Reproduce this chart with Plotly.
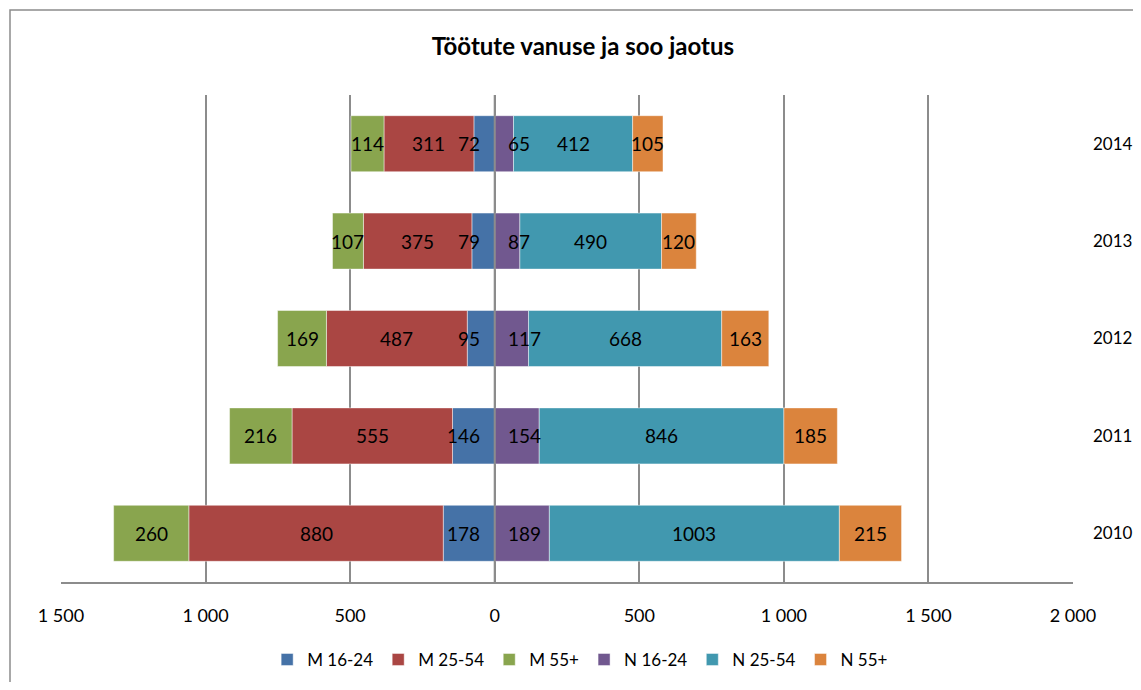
import plotly.graph_objects as go

years = ["2010", "2011", "2012", "2013", "2014"]
series_names = ["M 16-24", "M 25-54", "M 55+", "N 16-24", "N 25-54", "N 55+"]
m_16_24 = [178, 146, 95, 79, 72]
m_25_54 = [880, 555, 487, 375, 311]
m_55 = [260, 216, 169, 107, 114]
n_16_24 = [189, 154, 117, 87, 65]
n_25_54 = [1003, 846, 668, 490, 412]
n_55 = [215, 185, 163, 120, 105]
tick_vals = [-1500, -1000, -500, 0, 500, 1000, 1500, 2000]
tick_text = ["1 500", "1 000", "500", "0", "500", "1 000", "1 500", "2 000"]
title_text = "Töötute vanuse ja soo jaotus"

colors = ["#4572A7", "#AA4643", "#89A54E", "#71588F", "#4198AF", "#DB843D"]
FONT = "Lato"

values = [m_16_24, m_25_54, m_55, n_16_24, n_25_54, n_55]
signs = [-1, -1, -1, 1, 1, 1]
ypos = list(range(len(years)))

W, H = 1125, 674  # page body has an 8px margin on every side

fig = go.Figure()
for name, vals, sgn, col in zip(series_names, values, signs, colors):
    fig.add_trace(go.Bar(
        y=ypos, x=[sgn * v for v in vals], name=name, orientation="h",
        marker=dict(color=col, line=dict(color="rgba(255,255,255,0.45)", width=1)),
        width=0.575, hoverinfo="skip",
    ))

# data labels: innermost segments anchored near the centre line, others centred
annotations = []
for yi in ypos:
    neg_cum = 0
    pos_cum = 0
    for si, (vals, sgn) in enumerate(zip(values, signs)):
        v = vals[yi]
        if sgn < 0:
            center = -(neg_cum + v / 2)
            neg_cum += v
        else:
            center = pos_cum + v / 2
            pos_cum += v
        ann = dict(y=yi, xref="x", yref="y", text=str(v), showarrow=False,
                   font=dict(family=FONT, size=19, color="#000000"))
        if si == 0:
            ann.update(x=0, xanchor="right", xshift=-13)
        elif si == 3:
            ann.update(x=0, xanchor="left", xshift=11)
        else:
            ann.update(x=center, xanchor="center")
        annotations.append(ann)

fig.update_layout(
    barmode="relative",
    width=W, height=H,
    margin=dict(l=53, r=60, t=87, b=100, autoexpand=False),
    paper_bgcolor="white", plot_bgcolor="white",
    title=dict(text="<b>" + title_text + "</b>", x=0.511, xanchor="center",
               y=1 - 39 / H, yanchor="middle",
               font=dict(family=FONT, size=24, color="#000000")),
    font=dict(family=FONT, size=18, color="#000000"),
    annotations=annotations,
    showlegend=True,
    legend=dict(orientation="h", x=0.513, xanchor="center", y=-0.16, yanchor="middle",
                font=dict(family=FONT, size=17, color="#000000"),
                traceorder="normal"),
    xaxis=dict(range=[-1500, 2000], tickvals=tick_vals, ticktext=tick_text,
               showgrid=True, gridcolor="#8c8c8c", gridwidth=2,
               zeroline=False, showline=True, linecolor="#8c8c8c", linewidth=2,
               ticks="", ticklabelstandoff=16, automargin=False,
               tickfont=dict(family=FONT, size=18, color="#000000"), fixedrange=True),
    yaxis=dict(range=[-0.5, 4.5], tickvals=ypos, ticktext=years,
               side="right", showgrid=False, zeroline=False, showline=False,
               ticks="", ticklabelstandoff=19, automargin=False,
               tickfont=dict(family=FONT, size=17, color="#000000"), fixedrange=True),
    shapes=[
        dict(type="line", xref="x", yref="paper", x0=0, x1=0, y0=0, y1=1,
             line=dict(color="#8c8c8c", width=2), layer="above"),
        dict(type="rect", xref="paper", yref="paper",
             x0=(10 - 61) / 1012, x1=1.2, y0=-0.4, y1=(582 - 10) / 487,
             line=dict(color="#8c8c8c", width=1.5), layer="below"),
    ],
)

fig.write_html("out.html")
